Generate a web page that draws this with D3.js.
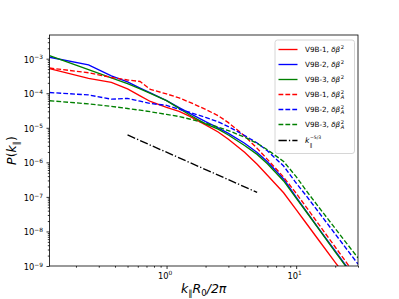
<!DOCTYPE html>
<html><head><meta charset="utf-8">
<script src="https://cdn.jsdelivr.net/npm/d3@7"></script>
<style>
body{margin:0;background:#fff;}
svg text{font-family:"DejaVu Sans",sans-serif;fill:#000;}
</style></head>
<body><svg id="c" width="399" height="299"></svg>
<script>
// ---- data ----
const kGrid = [0.125,0.25,0.375,0.5,0.625,0.75,1,1.25,1.5,2,2.5,3,4,5,6,8,10,12,15,20,25,30];
const v1Solid = [5.14e-4,2.69e-4,2.07e-4,1.33e-4,8.43e-5,5.77e-5,3.89e-5,3.00e-5,2.17e-5,1.22e-5,7.55e-6,4.64e-6,1.95e-6,8.79e-7,4.25e-7,1.32e-7,4.27e-8,1.70e-8,5.47e-9,1.28e-9,4.2e-10,1.65e-10];
const v2Solid = [1.10e-3,6.62e-4,3.18e-4,2.12e-4,1.41e-4,1.02e-4,6.12e-5,3.85e-5,2.65e-5,1.50e-5,9.93e-6,6.89e-6,3.58e-6,1.93e-6,1.04e-6,3.30e-7,9.86e-8,3.78e-8,1.18e-8,2.72e-9,8.7e-10,3.4e-10];
const v3Solid = [1.23e-3,4.81e-4,2.78e-4,1.89e-4,1.34e-4,9.98e-5,6.08e-5,3.66e-5,2.38e-5,1.30e-5,9.16e-6,6.19e-6,3.08e-6,1.70e-6,9.14e-7,2.90e-7,9.22e-8,3.66e-8,1.15e-8,2.58e-9,8.2e-10,3.2e-10];
const v1Dash = [5.38e-4,3.91e-4,2.86e-4,2.42e-4,2.19e-4,1.29e-4,9.58e-5,7.30e-5,5.55e-5,3.41e-5,2.25e-5,1.41e-5,5.83e-6,2.54e-6,1.22e-6,3.74e-7,1.27e-7,5.00e-8,1.57e-8,3.55e-9,1.12e-9,4.5e-10];
const v2Dash = [1.05e-4,8.95e-5,6.73e-5,7.10e-5,5.89e-5,5.05e-5,4.45e-5,3.45e-5,2.83e-5,2.00e-5,1.50e-5,1.08e-5,5.98e-6,3.63e-6,2.16e-6,7.83e-7,2.52e-7,1.06e-7,3.52e-8,8.43e-9,2.81e-9,1.14e-9];
const v3Dash = [6.08e-5,4.92e-5,4.16e-5,3.62e-5,3.23e-5,2.92e-5,2.44e-5,2.12e-5,1.80e-5,1.35e-5,1.05e-5,8.30e-6,5.38e-6,3.53e-6,2.32e-6,1.06e-6,3.87e-7,1.49e-7,4.97e-8,1.22e-8,4.13e-9,1.71e-9];
const refK = [0.5, 5];
const refP = [6.2e-6, 1.35e-7];
const seriesNames = ["V9B-1","V9B-2","V9B-3","V9B-1","V9B-2","V9B-3"];
const seriesColors = ["#ff0000","#0000ff","#008000","#ff0000","#0000ff","#008000"];
const xMajor = [1, 10];
const xMajorExp = ["0","1"];
const yMajor = [1e-9,1e-8,1e-7,1e-6,1e-5,1e-4,1e-3];
const yMajorExp = ["−9","−8","−7","−6","−5","−4","−3"];

// ---- layout ----
const L=49.5, R=358, T=35, B=266;
const svg = d3.select("#c");
const x = d3.scaleLog().domain([0.125,30]).range([L,R]);
const y = d3.scaleLog().domain([1e-9,4.85e-3]).range([B,T]);

svg.append("defs").append("clipPath").attr("id","clip")
  .append("rect").attr("x",L).attr("y",T).attr("width",R-L).attr("height",B-T);

const allSeries = [v1Solid,v2Solid,v3Solid,v1Dash,v2Dash,v3Dash];
const line = d3.line().x(d=>x(d[0])).y(d=>y(d[1]));
const g = svg.append("g").attr("clip-path","url(#clip)");
const dashes = [null,null,null,"4.8,2.1","4.8,2.1","4.8,2.1"];
allSeries.forEach((s,i)=>{
  g.append("path").datum(kGrid.map((k,j)=>[k,s[j]]))
   .attr("d",line).attr("fill","none").attr("stroke",seriesColors[i])
   .attr("stroke-width",1.35).attr("stroke-dasharray",dashes[i]);
});
g.append("path").datum(refK.map((k,j)=>[k,refP[j]]))
 .attr("d",line).attr("fill","none").attr("stroke","#000")
 .attr("stroke-width",1.35).attr("stroke-dasharray","8.3,2.1,1.3,2.1");

// ---- axes ----
function minorTicks(lo,hi){const out=[];for(let e=-10;e<3;e++){for(let m=2;m<10;m++){const v=m*Math.pow(10,e);if(v>=lo&&v<=hi)out.push(v);}}return out;}
const xMinor = minorTicks(0.125,30.01);
const yMinor = minorTicks(1e-9,4.85e-3);

const xa = svg.append("g").attr("transform",`translate(0,${B})`)
  .call(d3.axisBottom(x).tickValues(xMajor).tickSize(3).tickFormat(""));
const xm = svg.append("g").attr("transform",`translate(0,${B})`)
  .call(d3.axisBottom(x).tickValues(xMinor).tickSize(1.7).tickFormat(""));
const ya = svg.append("g").attr("transform",`translate(${L},0)`)
  .call(d3.axisLeft(y).tickValues(yMajor).tickSize(3).tickFormat(""));
const ym = svg.append("g").attr("transform",`translate(${L},0)`)
  .call(d3.axisLeft(y).tickValues(yMinor).tickSize(1.7).tickFormat(""));
[xa,xm,ya,ym].forEach(a=>{a.select(".domain").remove();a.selectAll("line").attr("stroke","#000").attr("stroke-width",0.8);});

// frame
svg.append("rect").attr("x",L).attr("y",T).attr("width",R-L).attr("height",B-T)
  .attr("fill","none").attr("stroke","#000").attr("stroke-width",0.8);

// tick labels
xMajor.forEach((v,i)=>{
  const t = svg.append("text").attr("x",x(v)-1.5).attr("y",278.5).attr("text-anchor","middle").attr("font-size",8.3);
  t.append("tspan").text("10");
  t.append("tspan").attr("dy",-3.3).attr("font-size",5.9).text(xMajorExp[i]);
});
yMajor.forEach((v,i)=>{
  const t = svg.append("text").attr("x",43).attr("y",y(v)+4).attr("text-anchor","end").attr("font-size",8.3);
  t.append("tspan").text("10");
  t.append("tspan").attr("dy",-3.3).attr("font-size",5.9).text(yMajorExp[i]);
});

// axis labels
const xl = svg.append("text").attr("x",(L+R)/2).attr("y",293).attr("text-anchor","middle").attr("font-size",12.5);
xl.append("tspan").attr("font-style","italic").text("k");
xl.append("tspan").attr("dy",3).attr("font-size",8.5).text("∥");
xl.append("tspan").attr("dy",-3).attr("font-style","italic").text("R");
xl.append("tspan").attr("dy",3).attr("font-size",8.5).text("0");
xl.append("tspan").attr("dy",-3).attr("font-style","italic").text("/2π");

const yl = svg.append("text").attr("transform",`translate(16,${(T+B)/2}) rotate(-90)`).attr("text-anchor","middle").attr("font-size",12.5);
yl.append("tspan").attr("font-style","italic").text("P");
yl.append("tspan").text("(");
yl.append("tspan").attr("font-style","italic").text("k");
yl.append("tspan").attr("dy",3).attr("font-size",8.5).text("∥");
yl.append("tspan").attr("dy",-3).text(")");

// ---- legend ----
const lg = svg.append("g");
lg.append("rect").attr("x",275).attr("y",40).attr("width",79.5).attr("height",113.5)
  .attr("rx",2.5).attr("fill","#fff").attr("fill-opacity",0.8).attr("stroke","#cccccc").attr("stroke-width",0.8);
const rowY = [49.5,64.5,79.5,94.5,109.5,124.5,140.5];
const fs = 7.2;
seriesNames.forEach((n,i)=>{
  const yy = rowY[i];
  lg.append("line").attr("x1",278.5).attr("x2",297.5).attr("y1",yy).attr("y2",yy)
    .attr("stroke",seriesColors[i]).attr("stroke-width",1.35).attr("stroke-dasharray",dashes[i]);
  const t = lg.append("text").attr("x",305).attr("y",yy+2.6).attr("font-size",fs);
  t.append("tspan").text(n+", ");
  t.append("tspan").attr("font-style","italic").text("δβ");
  const w = t.node().getComputedTextLength();
  lg.append("text").attr("x",305+w+0.6).attr("y",yy-0.6).attr("font-size",5.2).text("2");
  if(i>=3) lg.append("text").attr("x",305+w+0.6).attr("y",yy+4.8).attr("font-size",5.2).attr("font-style","italic").text("A");
});
{
  const yy = rowY[6];
  lg.append("line").attr("x1",278.5).attr("x2",297.5).attr("y1",yy).attr("y2",yy)
    .attr("stroke","#000").attr("stroke-width",1.35).attr("stroke-dasharray","8.3,2.1,1.3,2.1");
  const t = lg.append("text").attr("x",305).attr("y",yy+2.6).attr("font-size",fs+0.5).attr("font-style","italic").text("k");
  const w = t.node().getComputedTextLength();
  lg.append("text").attr("x",305+w+0.3).attr("y",yy+6).attr("font-size",5.2).text("∥");
  lg.append("text").attr("x",305+w+0.5).attr("y",yy-1.2).attr("font-size",4.6).text("−5/3");
}
</script></body></html>
